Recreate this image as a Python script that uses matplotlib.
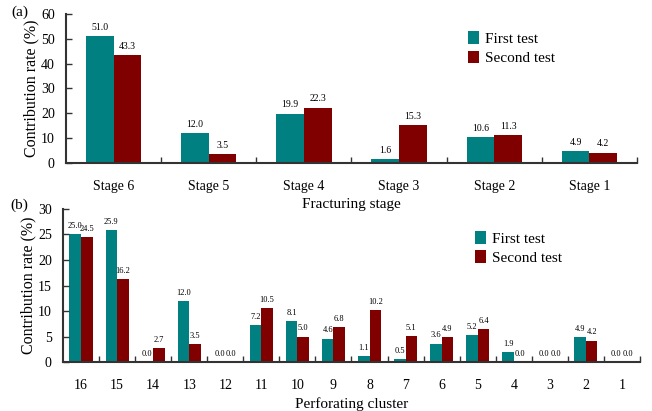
import matplotlib.pyplot as plt
import numpy as np

plt.rcParams['font.family'] = ['Liberation Serif', 'DejaVu Serif']

# (a) contribution by fracturing stage
stages = ['Stage 6', 'Stage 5', 'Stage 4', 'Stage 3', 'Stage 2', 'Stage 1']
stage_first = [51.0, 12.0, 19.9, 1.6, 10.6, 4.9]
stage_second = [43.3, 3.5, 22.3, 15.3, 11.3, 4.2]

# (b) contribution by perforating cluster
clusters = ['16', '15', '14', '13', '12', '11', '10', '9', '8',
            '7', '6', '5', '4', '3', '2', '1']
cluster_first = [25.0, 25.9, 0.0, 12.0, 0.0, 7.2, 8.1, 4.6, 1.1,
                 0.5, 3.6, 5.2, 1.9, 0.0, 4.9, 0.0]
cluster_second = [24.5, 16.2, 2.7, 3.5, 0.0, 10.5, 5.0, 6.8, 10.2,
                  5.1, 4.9, 6.4, 0.0, 0.0, 4.2, 0.0]

c1 = '#008080'
c2 = '#800000'
axis_col = '#333333'


def draw_panel(ax, cats, v1, v2, width, ymax, ystep, label_size, xlabel,
               leg_anchor):
    x = np.arange(len(cats))
    b1 = ax.bar(x - width / 2, v1, width, color=c1, label='First test')
    b2 = ax.bar(x + width / 2, v2, width, color=c2, label='Second test')
    for bars, vals in ((b1, v1), (b2, v2)):
        for b, v in zip(bars, vals):
            ax.annotate(f'{v:.1f}', (b.get_x() + b.get_width() / 2, v),
                        xytext=(0, 3), textcoords='offset points',
                        ha='center', va='bottom', fontsize=label_size)
    ax.set_xlim(-0.5, len(cats) - 0.5)
    ax.set_ylim(0, ymax)
    ax.set_yticks(np.arange(0, ymax + 1, ystep))
    ax.set_xticks(x)
    ax.set_xticklabels(cats)
    ax.set_xticks(np.arange(0.5, len(cats) - 0.5 + 1e-9, 1), minor=True)
    ax.tick_params(axis='x', which='major', length=0, pad=12, labelsize=10)
    ax.tick_params(axis='x', which='minor', direction='in', length=4,
                   width=1, color=axis_col)
    ax.tick_params(axis='y', direction='in', length=4, width=1,
                   color=axis_col, labelsize=10, pad=8)
    for s in ('top', 'right'):
        ax.spines[s].set_visible(False)
    for s in ('left', 'bottom'):
        ax.spines[s].set_color(axis_col)
        ax.spines[s].set_linewidth(1.5)
    ax.set_facecolor('none')
    ax.set_ylabel('Contribution rate (%)', fontsize=11.5, labelpad=1)
    ax.set_xlabel(xlabel, fontsize=11, labelpad=4)
    ax.legend(loc='upper left', bbox_to_anchor=leg_anchor, frameon=False,
              fontsize=11, handlelength=0.7, handleheight=0.9,
              handletextpad=0.4, labelspacing=0.3)


fig = plt.figure(figsize=(6.52, 4.11), dpi=100)
ax1 = fig.add_axes([0.1012, 0.6034, 0.8758, 0.3626])
ax2 = fig.add_axes([0.0966, 0.1192, 0.885, 0.3723])

draw_panel(ax1, stages, stage_first, stage_second, 0.29, 60, 10, 7,
           'Fracturing stage', (0.68, 0.975))
draw_panel(ax2, clusters, cluster_first, cluster_second, 0.32, 30, 5, 6,
           'Perforating cluster', (0.69, 0.945))

fig.text(0.03, 0.97, '(a)', fontsize=11, ha='center', va='center')
fig.text(0.03, 0.50, '(b)', fontsize=11, ha='center', va='center')

fig.savefig('out.png', dpi=100)
